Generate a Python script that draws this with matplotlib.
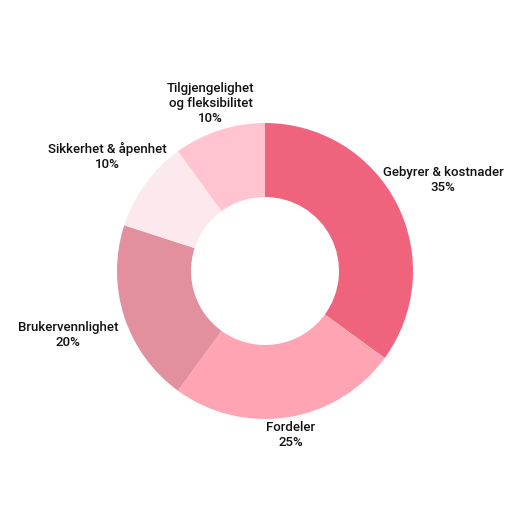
import numpy as np
import matplotlib.pyplot as plt

categories = ["Gebyrer & kostnader", "Fordeler", "Brukervennlighet",
              "Sikkerhet & åpenhet", "Tilgjengelighet\nog fleksibilitet"]
shares = [35, 25, 20, 10, 10]
colors = ["#EF637C", "#FFA4B3", "#E3909E", "#FCE9ED", "#FFC4CF"]

# label placement: distance from centre (in radii)
label_dist = [1.35, 1.12, 1.40, 1.32, 1.19]

plt.rcParams['font.family'] = ['Roboto', 'DejaVu Sans']

fig = plt.figure(figsize=(5.3, 5.3), dpi=100)
ax = fig.add_axes([0, 0, 1, 1])
ax.axis('off')

r_px = 148.0
cx, cy = 265.0, 271.0

wedges, _ = ax.pie(shares, colors=colors, startangle=90, counterclock=False,
                   radius=1.0, wedgeprops=dict(width=0.5, linewidth=0))
ax.set_aspect('auto')
ax.set_xlim(-cx / r_px, (530 - cx) / r_px)
ax.set_ylim(-(530 - cy) / r_px, cy / r_px)

for w, name, val, d in zip(wedges, categories, shares, label_dist):
    mid = np.deg2rad((w.theta1 + w.theta2) / 2)
    ax.text(d * np.cos(mid), d * np.sin(mid), f"{name}\n{val}%",
            ha='center', va='center', fontsize=9.5, fontweight='medium',
            color='#111111', linespacing=1.22)

fig.savefig("out.png", dpi=100, facecolor='white')
